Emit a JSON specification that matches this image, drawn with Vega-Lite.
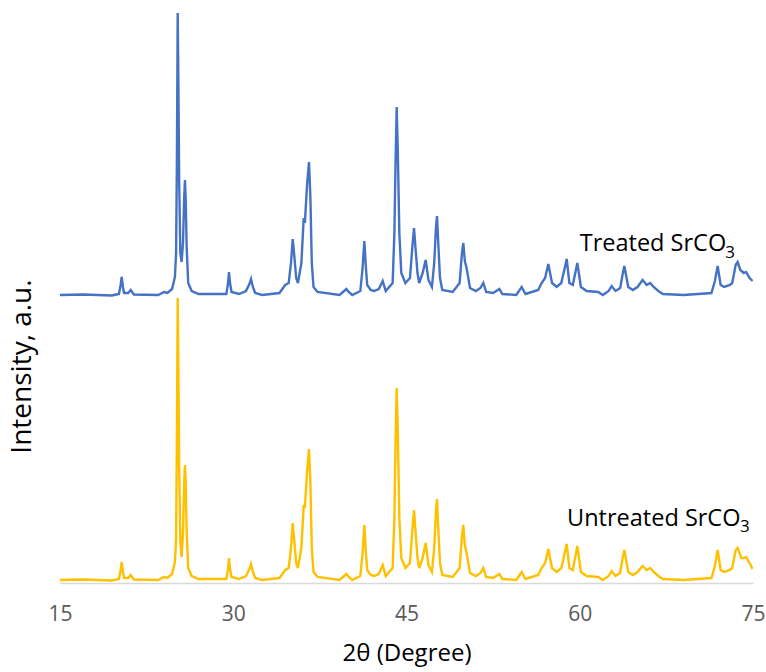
{
  "$schema": "https://vega.github.io/schema/vega-lite/v6.json",
  "width": 693,
  "height": 573,
  "autosize": {"type": "none"},
  "padding": {"left": 60, "top": 10, "right": 13, "bottom": 89},
  "background": "#ffffff",
  "config": {"view": {"stroke": null}},
  "datasets": {
    "treated": [
      {"t":15.0,"i":288},{"t":17.0,"i":288.5},{"t":19.5,"i":287.5},{"t":20.1,"i":289},{"t":20.25,"i":298},{"t":20.34,"i":306},{"t":20.45,"i":296},{"t":20.55,"i":290},{"t":20.9,"i":290},{"t":21.12,"i":293},{"t":21.4,"i":288.5},{"t":23.5,"i":288},{"t":24.0,"i":291},{"t":24.3,"i":290},{"t":24.7,"i":294},{"t":24.95,"i":306},{"t":25.05,"i":330},{"t":25.12,"i":420},{"t":25.19,"i":570},{"t":25.25,"i":500},{"t":25.32,"i":400},{"t":25.42,"i":330},{"t":25.53,"i":321},{"t":25.65,"i":340},{"t":25.75,"i":385},{"t":25.82,"i":403},{"t":25.88,"i":385},{"t":25.97,"i":335},{"t":26.1,"i":300},{"t":26.4,"i":292},{"t":27.0,"i":289},{"t":29.4,"i":289},{"t":29.55,"i":300},{"t":29.63,"i":311},{"t":29.72,"i":300},{"t":29.85,"i":291},{"t":30.5,"i":289},{"t":31.1,"i":292},{"t":31.4,"i":299},{"t":31.54,"i":304},{"t":31.7,"i":296},{"t":31.9,"i":290},{"t":32.5,"i":288},{"t":34.0,"i":290},{"t":34.5,"i":298},{"t":34.8,"i":300},{"t":35.0,"i":320},{"t":35.15,"i":344},{"t":35.28,"i":328},{"t":35.45,"i":305},{"t":35.6,"i":300},{"t":35.9,"i":320},{"t":36.1,"i":365},{"t":36.2,"i":360},{"t":36.4,"i":400},{"t":36.56,"i":421},{"t":36.68,"i":385},{"t":36.8,"i":320},{"t":36.95,"i":296},{"t":37.3,"i":291},{"t":39.2,"i":288},{"t":39.6,"i":292},{"t":39.8,"i":294},{"t":40.0,"i":291},{"t":40.3,"i":288},{"t":41.0,"i":292},{"t":41.2,"i":315},{"t":41.35,"i":342},{"t":41.47,"i":318},{"t":41.6,"i":298},{"t":41.9,"i":293},{"t":42.2,"i":292},{"t":42.6,"i":294},{"t":42.94,"i":302},{"t":43.2,"i":292},{"t":43.8,"i":300},{"t":43.95,"i":350},{"t":44.05,"i":420},{"t":44.15,"i":476},{"t":44.25,"i":430},{"t":44.38,"i":350},{"t":44.55,"i":310},{"t":44.9,"i":300},{"t":45.3,"i":305},{"t":45.5,"i":335},{"t":45.65,"i":355},{"t":45.78,"i":335},{"t":45.95,"i":310},{"t":46.1,"i":300},{"t":46.4,"i":310},{"t":46.66,"i":323},{"t":46.9,"i":303},{"t":47.2,"i":296},{"t":47.4,"i":320},{"t":47.55,"i":355},{"t":47.64,"i":367},{"t":47.75,"i":340},{"t":47.9,"i":305},{"t":48.1,"i":293},{"t":49.0,"i":291},{"t":49.6,"i":300},{"t":49.8,"i":330},{"t":49.92,"i":340},{"t":50.05,"i":322},{"t":50.2,"i":315},{"t":50.5,"i":295},{"t":51.0,"i":292},{"t":51.4,"i":295},{"t":51.65,"i":300},{"t":51.9,"i":291},{"t":52.5,"i":290},{"t":53.04,"i":294},{"t":53.3,"i":289},{"t":54.5,"i":288},{"t":54.97,"i":296},{"t":55.3,"i":289},{"t":56.4,"i":293},{"t":56.7,"i":300},{"t":57.0,"i":305},{"t":57.28,"i":319},{"t":57.6,"i":300},{"t":58.0,"i":296},{"t":58.4,"i":300},{"t":58.7,"i":315},{"t":58.87,"i":324},{"t":59.1,"i":300},{"t":59.4,"i":298},{"t":59.79,"i":320},{"t":60.1,"i":296},{"t":60.6,"i":292},{"t":61.6,"i":291},{"t":62.0,"i":288},{"t":62.5,"i":292},{"t":62.76,"i":297},{"t":63.1,"i":292},{"t":63.5,"i":295},{"t":63.7,"i":308},{"t":63.86,"i":317},{"t":64.2,"i":296},{"t":64.6,"i":293},{"t":65.0,"i":296},{"t":65.44,"i":303},{"t":65.8,"i":298},{"t":66.1,"i":300},{"t":66.4,"i":296},{"t":66.8,"i":292},{"t":67.2,"i":289},{"t":69.0,"i":288},{"t":71.4,"i":290},{"t":71.7,"i":302},{"t":71.94,"i":317},{"t":72.2,"i":298},{"t":72.5,"i":296},{"t":73.0,"i":298},{"t":73.2,"i":300},{"t":73.5,"i":318},{"t":73.67,"i":321},{"t":73.9,"i":313},{"t":74.2,"i":310},{"t":74.4,"i":311},{"t":74.7,"i":305},{"t":74.97,"i":302}
    ],
    "untreated": [
      {"t":15.0,"i":3},{"t":17.0,"i":3.5},{"t":19.5,"i":2.5},{"t":20.1,"i":4},{"t":20.25,"i":13},{"t":20.34,"i":21},{"t":20.45,"i":11},{"t":20.55,"i":5},{"t":20.9,"i":5},{"t":21.12,"i":8},{"t":21.4,"i":3.5},{"t":23.5,"i":3},{"t":24.0,"i":6},{"t":24.3,"i":5},{"t":24.7,"i":9},{"t":24.95,"i":21},{"t":25.05,"i":45},{"t":25.12,"i":140},{"t":25.19,"i":285},{"t":25.25,"i":215},{"t":25.32,"i":115},{"t":25.42,"i":40},{"t":25.53,"i":26},{"t":25.65,"i":50},{"t":25.75,"i":100},{"t":25.82,"i":118},{"t":25.88,"i":100},{"t":25.97,"i":50},{"t":26.1,"i":15},{"t":26.4,"i":7},{"t":27.0,"i":4},{"t":29.4,"i":4},{"t":29.55,"i":14},{"t":29.63,"i":25},{"t":29.72,"i":14},{"t":29.85,"i":6},{"t":30.5,"i":4},{"t":31.1,"i":7},{"t":31.4,"i":14},{"t":31.54,"i":19},{"t":31.7,"i":11},{"t":31.9,"i":5},{"t":32.5,"i":3},{"t":34.0,"i":5},{"t":34.5,"i":13},{"t":34.8,"i":15},{"t":35.0,"i":35},{"t":35.15,"i":60},{"t":35.28,"i":43},{"t":35.45,"i":20},{"t":35.6,"i":15},{"t":35.9,"i":35},{"t":36.1,"i":78},{"t":36.2,"i":75},{"t":36.4,"i":113},{"t":36.56,"i":134},{"t":36.68,"i":100},{"t":36.8,"i":35},{"t":36.95,"i":11},{"t":37.3,"i":6},{"t":39.2,"i":3},{"t":39.6,"i":7},{"t":39.8,"i":9},{"t":40.0,"i":6},{"t":40.3,"i":3},{"t":41.0,"i":7},{"t":41.2,"i":30},{"t":41.35,"i":58},{"t":41.47,"i":33},{"t":41.6,"i":13},{"t":41.9,"i":8},{"t":42.2,"i":7},{"t":42.6,"i":9},{"t":42.94,"i":18},{"t":43.2,"i":7},{"t":43.8,"i":15},{"t":43.95,"i":65},{"t":44.05,"i":140},{"t":44.15,"i":195},{"t":44.25,"i":150},{"t":44.38,"i":65},{"t":44.55,"i":25},{"t":44.9,"i":15},{"t":45.3,"i":20},{"t":45.5,"i":52},{"t":45.65,"i":73},{"t":45.78,"i":52},{"t":45.95,"i":25},{"t":46.1,"i":15},{"t":46.4,"i":25},{"t":46.66,"i":40},{"t":46.9,"i":18},{"t":47.2,"i":11},{"t":47.4,"i":35},{"t":47.55,"i":72},{"t":47.64,"i":84},{"t":47.75,"i":55},{"t":47.9,"i":20},{"t":48.1,"i":8},{"t":49.0,"i":6},{"t":49.6,"i":15},{"t":49.8,"i":47},{"t":49.92,"i":58},{"t":50.05,"i":38},{"t":50.2,"i":30},{"t":50.5,"i":10},{"t":51.0,"i":7},{"t":51.4,"i":10},{"t":51.65,"i":15},{"t":51.9,"i":6},{"t":52.5,"i":5},{"t":53.04,"i":9},{"t":53.3,"i":4},{"t":54.5,"i":3},{"t":54.97,"i":11},{"t":55.3,"i":4},{"t":56.4,"i":8},{"t":56.7,"i":15},{"t":57.0,"i":20},{"t":57.28,"i":34},{"t":57.6,"i":15},{"t":58.0,"i":11},{"t":58.4,"i":15},{"t":58.7,"i":30},{"t":58.87,"i":39},{"t":59.1,"i":15},{"t":59.4,"i":13},{"t":59.79,"i":37},{"t":60.1,"i":11},{"t":60.6,"i":7},{"t":61.6,"i":6},{"t":62.0,"i":3},{"t":62.5,"i":7},{"t":62.76,"i":12},{"t":63.1,"i":7},{"t":63.5,"i":10},{"t":63.7,"i":24},{"t":63.86,"i":33},{"t":64.2,"i":11},{"t":64.6,"i":8},{"t":65.0,"i":11},{"t":65.44,"i":17},{"t":65.8,"i":13},{"t":66.1,"i":15},{"t":66.4,"i":11},{"t":66.8,"i":7},{"t":67.2,"i":4},{"t":69.0,"i":3},{"t":71.4,"i":5},{"t":71.7,"i":17},{"t":71.94,"i":33},{"t":72.2,"i":13},{"t":72.5,"i":11},{"t":73.0,"i":13},{"t":73.2,"i":15},{"t":73.5,"i":33},{"t":73.67,"i":35},{"t":73.9,"i":28},{"t":74.0,"i":25},{"t":74.2,"i":25},{"t":74.4,"i":26},{"t":74.7,"i":20},{"t":74.97,"i":14}
    ],
    "labels": [
      {"main":"Treated SrCO","sub":"3","t":60.0,"i":332,"ts":72.6,"is":325},
      {"main":"Untreated SrCO","sub":"3","t":58.9,"i":57,"ts":73.88,"is":51}
    ]
  },
  "layer": [
    {
      "data": {"name": "untreated"},
      "mark": {"type": "line", "color": "#FFC000", "strokeWidth": 2.4, "clip": true},
      "encoding": {
        "x": {"field": "t", "type": "quantitative", "scale": {"domain": [15, 75], "nice": false, "zero": false},
          "axis": {"values": [15, 30, 45, 60, 75], "ticks": false, "grid": false, "domainColor": "#D9D9D9", "domainWidth": 1.3,
            "labelFont": "Open Sans", "labelFontSize": 21, "labelColor": "#595959", "labelPadding": 20, "labelFlush": false, "labelOverlap": false,
            "title": "2θ (Degree)", "titleFont": "Open Sans", "titleFontSize": 24, "titleFontWeight": "normal", "titleColor": "#000000", "titlePadding": 17}},
        "y": {"field": "i", "type": "quantitative", "scale": {"domain": [0, 573], "nice": false, "zero": false},
          "axis": {"labels": false, "ticks": false, "grid": false, "domain": false,
            "title": "Intensity, a.u.", "titleFont": "Open Sans", "titleFontSize": 28, "titleFontWeight": "normal", "titleColor": "#000000",
            "titleX": -38, "titleY": 356, "titleAlign": "center", "titleBaseline": "middle", "titleAngle": -90}}
      }
    },
    {
      "data": {"name": "treated"},
      "mark": {"type": "line", "color": "#4472C4", "strokeWidth": 2.4, "clip": true},
      "encoding": {
        "x": {"field": "t", "type": "quantitative"},
        "y": {"field": "i", "type": "quantitative"}
      }
    },
    {
      "data": {"name": "labels"},
      "mark": {"type": "text", "align": "left", "baseline": "alphabetic", "font": "Open Sans", "fontSize": 23.5, "color": "#000000"},
      "encoding": {
        "x": {"field": "t", "type": "quantitative"},
        "y": {"field": "i", "type": "quantitative"},
        "text": {"field": "main"}
      }
    },
    {
      "data": {"name": "labels"},
      "mark": {"type": "text", "align": "left", "baseline": "alphabetic", "font": "Open Sans", "fontSize": 17, "color": "#000000"},
      "encoding": {
        "x": {"field": "ts", "type": "quantitative"},
        "y": {"field": "is", "type": "quantitative"},
        "text": {"field": "sub"}
      }
    }
  ]
}
